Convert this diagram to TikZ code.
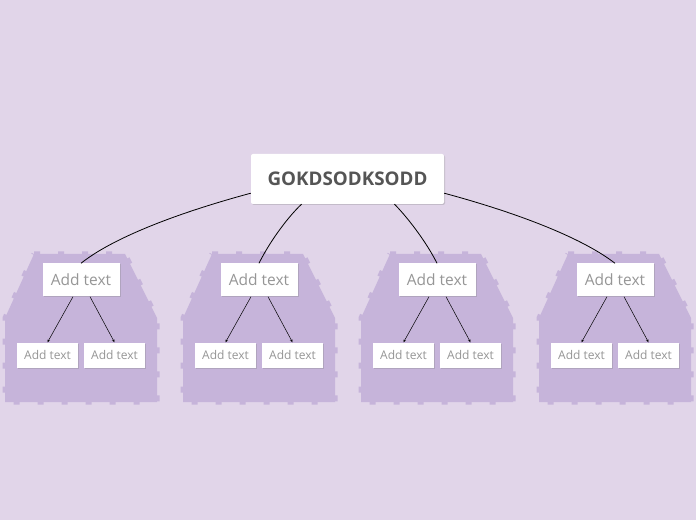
\documentclass[tikz,border=0pt]{standalone}
\usepackage{fontspec}
\setmainfont{Open Sans}
\usetikzlibrary{arrows.meta, positioning, shadows, calc}
\definecolor{bgpurple}{RGB}{225,213,233}
\definecolor{clusterpurple}{RGB}{198,180,218}
\definecolor{rootgray}{RGB}{85,85,85}
\definecolor{leafgray}{RGB}{150,150,150}
\tikzset{
  boxshadow/.style={drop shadow={opacity=0.3, shadow xshift=1pt, shadow yshift=-1pt}},
  rootbox/.style={fill=white, rounded corners=2pt, minimum width=193pt, minimum height=50pt, inner sep=0pt, font=\fontsize{18.8}{22}\selectfont\bfseries, text=rootgray, boxshadow},
  childbox/.style={fill=white, minimum width=77pt, minimum height=33pt, inner sep=0pt, font=\fontsize{15.5}{18}\selectfont, text=leafgray, boxshadow},
  leafbox/.style={fill=white, minimum width=61pt, minimum height=25pt, inner sep=0pt, font=\fontsize{12}{14}\selectfont, text=leafgray, boxshadow},
  cluster/.style={fill=clusterpurple},
  clusteredge/.style={draw=clusterpurple, line width=5pt, dash pattern=on 6pt off 18pt},
  branch/.style={black, line width=0.8pt},
  twig/.style={black, line width=0.5pt, -{Stealth[length=3pt, width=2.5pt]}}
}
\begin{document}
\begin{tikzpicture}[x=1pt, y=1pt]
\fill[bgpurple] (0,0) rectangle (696,520);

% four groups, each a child with two leaves
\foreach \k in {0,...,3} {
  \pgfmathsetmacro{\d}{178*\k}
  \fill[cluster] (34+\d,266) -- (125+\d,266) -- (157+\d,202) -- (157+\d,118) -- (5+\d,118) -- (5+\d,202) -- cycle;
  \draw[clusteredge] (34+\d,266) -- (125+\d,266) -- (157+\d,202) -- (157+\d,118) -- (5+\d,118) -- (5+\d,202) -- cycle;
  \node[childbox] (c\k) at (81+\d,240) {Add text};
  \node[leafbox] (l\k a) at (47.5+\d,165) {Add text};
  \node[leafbox] (l\k b) at (114.5+\d,165) {Add text};
  \draw[twig] ([xshift=-8pt]c\k.south) -- (l\k a.north);
  \draw[twig] ([xshift=9pt]c\k.south) -- (l\k b.north);
}

\node[rootbox] (root) at (347.5,341) {GOKDSODKSODD};

% branches from the root
\draw[branch] ($(root.south west)+(0,11)$) .. controls (170,305) and (110,280) .. (c0.north);
\draw[branch] ($(root.south)+(-46,0)$) .. controls (285,300) and (268,275) .. (c1.north);
\draw[branch] ($(root.south)+(47,0)$) .. controls (410,300) and (428,275) .. (c2.north);
\draw[branch] ($(root.south east)+(0,11)$) .. controls (525,305) and (585,280) .. (c3.north);

\end{tikzpicture}
\end{document}
